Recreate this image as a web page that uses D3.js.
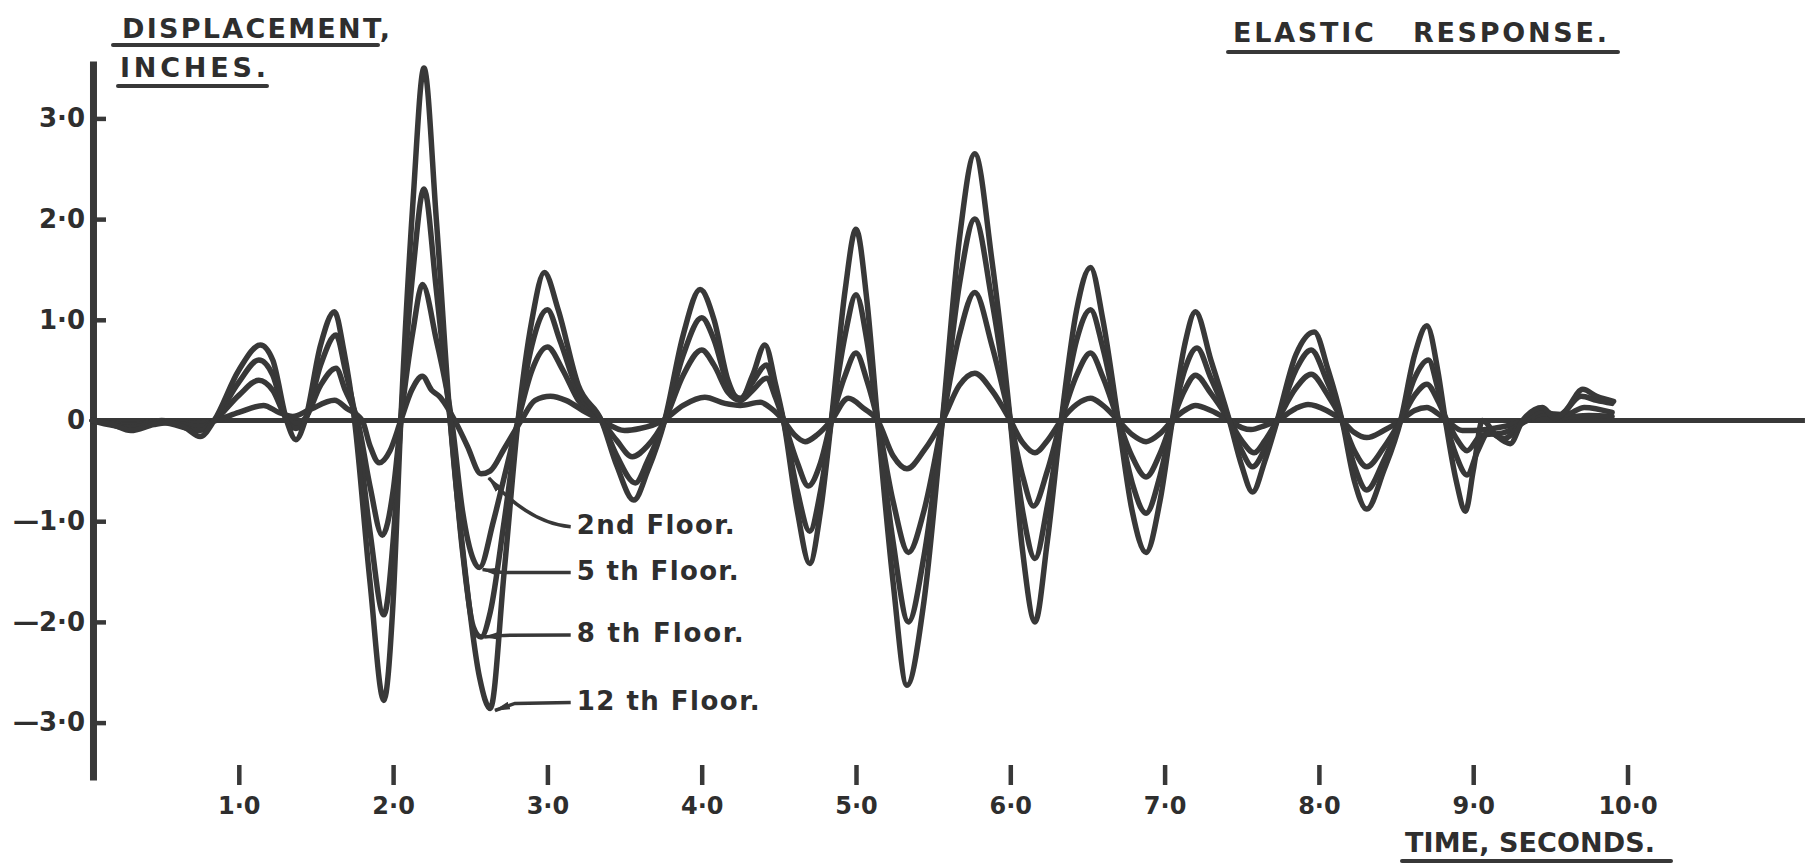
<!DOCTYPE html>
<html>
<head>
<meta charset="utf-8">
<script src="https://cdn.jsdelivr.net/npm/d3@7"></script>
<style>
  body { margin: 0; background: #fff; }
  svg { display: block; }
  text { font-family: "DejaVu Sans", sans-serif; font-weight: bold; fill: #2e2e2e; }
</style>
</head>
<body>
<div id="chart"></div>
<script>
var svgWidth = 1820;
var svgHeight = 867;

// axis ticks
var timeTicks = [1, 2, 3, 4, 5, 6, 7, 8, 9, 10];
var dispTicks = [3, 2, 1, 0, -1, -2, -3];

// series: [time (s), displacement (in)]
var floor12 = [[0.05,0],[0.18,-0.04],[0.30,-0.10],[0.45,-0.04],[0.55,-0.02],[0.65,-0.07],[0.75,-0.16],[0.84,0],[1.0,0.5],[1.14,0.75],[1.22,0.6],[1.31,0],[1.37,-0.19],[1.43,0],[1.53,0.75],[1.62,1.08],[1.68,0.7],[1.75,0],[1.85,-1.6],[1.94,-2.78],[2.0,-1.8],[2.05,0],[2.13,2.2],[2.20,3.5],[2.28,2.0],[2.37,0],[2.46,-1.4],[2.56,-2.55],[2.63,-2.86],[2.72,-1.5],[2.81,0],[2.9,1.0],[2.98,1.47],[3.07,1.1],[3.2,0.35],[3.35,0],[3.45,-0.45],[3.56,-0.79],[3.65,-0.5],[3.76,0],[3.88,0.85],[3.99,1.30],[4.08,1.0],[4.17,0.4],[4.25,0.2],[4.33,0.45],[4.41,0.75],[4.48,0.35],[4.53,0],[4.62,-0.9],[4.70,-1.42],[4.77,-0.9],[4.84,0],[4.93,1.3],[5.0,1.9],[5.07,1.2],[5.14,0],[5.24,-1.6],[5.33,-2.63],[5.44,-1.8],[5.56,0],[5.67,1.8],[5.77,2.65],[5.88,1.6],[6.0,0],[6.08,-1.3],[6.16,-2.0],[6.24,-1.2],[6.33,0],[6.43,1.1],[6.52,1.52],[6.60,1.0],[6.70,0],[6.79,-0.9],[6.88,-1.31],[6.97,-0.8],[7.05,0],[7.13,0.75],[7.2,1.08],[7.3,0.6],[7.42,0],[7.5,-0.45],[7.57,-0.71],[7.65,-0.4],[7.73,0],[7.85,0.65],[7.97,0.88],[8.06,0.5],[8.15,0],[8.23,-0.6],[8.31,-0.88],[8.42,-0.5],[8.53,0],[8.62,0.65],[8.70,0.94],[8.77,0.5],[8.82,0],[8.89,-0.6],[8.95,-0.9],[9.0,-0.5],[9.06,0],[9.15,-0.15],[9.24,-0.23],[9.32,0],[9.45,0.13],[9.53,0.02],[9.6,0.1],[9.71,0.31],[9.8,0.24],[9.91,0.19]];

var floor8 = [[0.05,0],[0.3,-0.07],[0.5,-0.02],[0.75,-0.1],[0.84,0],[1.0,0.38],[1.13,0.60],[1.22,0.45],[1.31,0],[1.37,-0.08],[1.43,0],[1.53,0.55],[1.63,0.85],[1.69,0.5],[1.76,0],[1.85,-1.1],[1.94,-1.93],[2.0,-1.2],[2.05,0],[2.13,1.5],[2.20,2.3],[2.28,1.3],[2.37,0],[2.45,-1.3],[2.52,-2.05],[2.57,-2.15],[2.63,-1.9],[2.72,-1.0],[2.81,0],[2.9,0.75],[3.0,1.1],[3.08,0.8],[3.2,0.28],[3.35,0],[3.45,-0.35],[3.57,-0.62],[3.65,-0.4],[3.76,0],[3.88,0.65],[4.0,1.02],[4.08,0.8],[4.17,0.35],[4.25,0.22],[4.33,0.38],[4.42,0.55],[4.48,0.28],[4.53,0],[4.62,-0.7],[4.70,-1.1],[4.77,-0.7],[4.84,0],[4.93,0.85],[5.0,1.25],[5.07,0.8],[5.14,0],[5.24,-1.2],[5.34,-2.0],[5.44,-1.35],[5.56,0],[5.67,1.35],[5.77,2.0],[5.88,1.2],[6.0,0],[6.08,-0.9],[6.16,-1.37],[6.24,-0.85],[6.33,0],[6.43,0.8],[6.52,1.1],[6.6,0.72],[6.7,0],[6.79,-0.62],[6.88,-0.92],[6.97,-0.55],[7.05,0],[7.13,0.5],[7.21,0.72],[7.3,0.42],[7.42,0],[7.5,-0.3],[7.57,-0.46],[7.65,-0.28],[7.73,0],[7.85,0.5],[7.95,0.7],[8.05,0.4],[8.15,0],[8.23,-0.45],[8.31,-0.69],[8.42,-0.4],[8.53,0],[8.62,0.42],[8.71,0.60],[8.77,0.32],[8.82,0],[8.89,-0.35],[8.96,-0.54],[9.03,-0.3],[9.1,-0.12],[9.2,-0.18],[9.32,-0.02],[9.45,0.1],[9.55,0.04],[9.7,0.24],[9.8,0.2],[9.9,0.17]];

var floor5 = [[0.05,0],[0.3,-0.05],[0.5,-0.01],[0.75,-0.06],[0.84,0],[1.0,0.25],[1.13,0.40],[1.22,0.3],[1.31,0.02],[1.37,-0.03],[1.43,0.02],[1.53,0.35],[1.63,0.52],[1.69,0.3],[1.77,0],[1.85,-0.65],[1.93,-1.14],[2.0,-0.7],[2.05,0],[2.13,0.9],[2.19,1.35],[2.28,0.8],[2.38,0],[2.45,-0.9],[2.52,-1.38],[2.56,-1.46],[2.65,-1.0],[2.73,-0.5],[2.81,0],[2.9,0.5],[3.0,0.73],[3.1,0.5],[3.2,0.2],[3.35,0],[3.45,-0.2],[3.55,-0.36],[3.65,-0.25],[3.76,0],[3.88,0.45],[4.0,0.70],[4.08,0.55],[4.17,0.28],[4.25,0.2],[4.33,0.3],[4.42,0.42],[4.48,0.22],[4.53,0],[4.62,-0.42],[4.69,-0.65],[4.77,-0.42],[4.84,0],[4.93,0.45],[5.0,0.67],[5.07,0.4],[5.14,0],[5.24,-0.8],[5.34,-1.31],[5.44,-0.9],[5.56,0],[5.67,0.85],[5.77,1.27],[5.88,0.75],[6.0,0],[6.08,-0.55],[6.15,-0.85],[6.24,-0.5],[6.33,0],[6.43,0.45],[6.52,0.67],[6.6,0.43],[6.7,0],[6.79,-0.36],[6.88,-0.56],[6.97,-0.33],[7.05,0],[7.13,0.3],[7.2,0.45],[7.3,0.27],[7.42,0],[7.5,-0.2],[7.58,-0.32],[7.65,-0.2],[7.73,0],[7.85,0.32],[7.95,0.46],[8.05,0.27],[8.15,0],[8.23,-0.3],[8.31,-0.46],[8.42,-0.27],[8.53,0],[8.62,0.25],[8.7,0.36],[8.77,0.2],[8.83,0],[8.9,-0.2],[8.96,-0.3],[9.05,-0.15],[9.2,-0.12],[9.35,0],[9.45,0.07],[9.6,0.06],[9.72,0.13],[9.9,0.08]];

var floor2 = [[0.05,0],[0.3,-0.04],[0.5,0],[0.75,-0.03],[0.85,0],[1.0,0.08],[1.16,0.15],[1.26,0.08],[1.35,0.04],[1.45,0.1],[1.62,0.2],[1.7,0.12],[1.8,0],[1.85,-0.25],[1.91,-0.42],[1.98,-0.3],[2.05,0],[2.12,0.3],[2.19,0.44],[2.25,0.3],[2.3,0.24],[2.40,0],[2.48,-0.25],[2.57,-0.53],[2.63,-0.5],[2.72,-0.28],[2.83,0],[2.92,0.2],[3.02,0.24],[3.12,0.2],[3.25,0.08],[3.35,0],[3.5,-0.1],[3.6,-0.08],[3.75,0],[3.88,0.15],[4.02,0.23],[4.15,0.17],[4.25,0.15],[4.38,0.18],[4.45,0.12],[4.53,0],[4.6,-0.14],[4.67,-0.21],[4.75,-0.14],[4.84,0],[4.95,0.22],[5.05,0.12],[5.14,0],[5.24,-0.35],[5.33,-0.48],[5.44,-0.3],[5.56,0],[5.67,0.35],[5.77,0.47],[5.88,0.3],[6.0,0],[6.08,-0.22],[6.16,-0.32],[6.24,-0.2],[6.33,0],[6.43,0.16],[6.52,0.22],[6.6,0.15],[6.7,0],[6.79,-0.14],[6.88,-0.21],[6.97,-0.13],[7.05,0],[7.13,0.1],[7.2,0.15],[7.3,0.1],[7.42,0],[7.5,-0.07],[7.56,-0.09],[7.65,-0.05],[7.73,0],[7.85,0.12],[7.93,0.16],[8.05,0.1],[8.15,0],[8.23,-0.12],[8.31,-0.17],[8.42,-0.1],[8.53,0],[8.62,0.1],[8.7,0.13],[8.77,0.07],[8.83,0],[8.93,-0.1],[9.0,-0.1],[9.2,-0.06],[9.4,0.02],[9.6,0.03],[9.75,0.05],[9.9,0.04]];

var floorNames = ["2nd Floor.", "5 th Floor.", "8 th Floor.", "12 th Floor."];
var floorSeries = [floor2, floor5, floor8, floor12];

// where each floor label sits and where its arrow points (time, inches)
var labelAt = [[3.19, -1.035], [3.19, -1.49], [3.19, -2.11], [3.19, -2.78]];
var arrowTip = [[2.62, -0.57], [2.58, -1.48], [2.59, -2.15], [2.66, -2.88]];
var labelLen = [158, 162, 167, 183];

var tStart = 0.055;   // displacement axis sits here
var tEnd = 11.15;     // end of the zero line

var ink = "#383838";

var svg = d3.select("#chart")
    .append("svg")
    .attr("width", svgWidth)
    .attr("height", svgHeight);

svg.append("defs").append("marker")
    .attr("id", "arrow")
    .attr("viewBox", "0 0 16 8")
    .attr("refX", 15)
    .attr("refY", 4)
    .attr("markerWidth", 16)
    .attr("markerHeight", 8)
    .attr("markerUnits", "userSpaceOnUse")
    .attr("orient", "auto")
    .append("path")
    .attr("d", "M0,0 L16,4 L0,8 Z")
    .attr("fill", ink);

var x = d3.scaleLinear().domain([0, 10]).range([84.5, 1627.5]);
var y = d3.scaleLinear().domain([-3.57, 3.57]).range([780, 61]);

var fmt = function(d) {
    if (d === 0) return "0";
    return (d < 0 ? "\u2014" : "") + d3.format(".1f")(Math.abs(d)).replace(".", "\u00b7");
};

// zero line
svg.append("line")
    .attr("x1", x(tStart)).attr("x2", x(tEnd))
    .attr("y1", y(0)).attr("y2", y(0))
    .attr("stroke", ink)
    .attr("stroke-width", 5);

// displacement axis
var yAxis = svg.append("g")
    .attr("transform", `translate(${x(tStart)},0)`)
    .call(d3.axisLeft(y).tickValues(dispTicks).tickSize(-13).tickSizeOuter(0).tickPadding(8).tickFormat(fmt));
yAxis.select(".domain").attr("stroke", ink).attr("stroke-width", 7);
yAxis.selectAll(".tick line").attr("stroke", ink).attr("stroke-width", 4.5);
yAxis.selectAll(".tick text")
    .attr("font-size", 26)
    .attr("font-family", "DejaVu Sans, sans-serif")
    .attr("font-weight", "bold")
    .attr("fill", "#2e2e2e");

// time axis (tick bars only)
var xAxis = svg.append("g")
    .attr("transform", "translate(0,765)")
    .call(d3.axisBottom(x).tickValues(timeTicks).tickSize(20).tickPadding(12).tickFormat(fmt));
xAxis.select(".domain").remove();
xAxis.selectAll(".tick line").attr("stroke", ink).attr("stroke-width", 4.5);
xAxis.selectAll(".tick text")
    .attr("font-size", 24)
    .attr("font-family", "DejaVu Sans, sans-serif")
    .attr("font-weight", "bold")
    .attr("fill", "#2e2e2e");

// response curves
var line = d3.line()
    .x(d => x(d[0]))
    .y(d => y(d[1]))
    .curve(d3.curveMonotoneX);

svg.append("g")
    .selectAll("path")
    .data(floorSeries)
    .enter()
    .append("path")
    .attr("d", line)
    .attr("fill", "none")
    .attr("stroke", ink)
    .attr("stroke-width", 5.5)
    .attr("stroke-linejoin", "round")
    .attr("stroke-linecap", "round");

// floor labels with arrows
var notes = svg.append("g");
floorNames.forEach(function(name, i) {
    var lx = x(labelAt[i][0]), ly = y(labelAt[i][1]);
    var tx = x(arrowTip[i][0]), ty = y(arrowTip[i][1]);
    var sx = lx - 6;
    var path = (i === 0)
        ? `M${sx},${ly + 2} Q${x(2.88)},${y(-1.02)} ${tx},${ty}`
        : `M${sx},${ly + 2} L${tx + 20},${ly + 2 + (ty - ly) * 0.1} L${tx},${ty}`;
    notes.append("path")
        .attr("d", path)
        .attr("fill", "none")
        .attr("stroke", ink)
        .attr("stroke-width", 3.5)
        .attr("marker-end", "url(#arrow)");
    notes.append("text")
        .attr("x", lx)
        .attr("y", ly)
        .attr("dy", "0.36em")
        .attr("font-size", 26)
        .attr("textLength", labelLen[i])
        .attr("lengthAdjust", "spacing")
        .style("white-space", "pre")
        .text(name);
});

// titles with underlines
function title(txt, x0, base, len, size, ux0, ux1, uy) {
    svg.append("text")
        .attr("x", x0)
        .attr("y", base)
        .attr("font-size", size)
        .attr("textLength", len)
        .attr("lengthAdjust", "spacing")
        .style("white-space", "pre")
        .text(txt);
    svg.append("line")
        .attr("x1", ux0).attr("x2", ux1)
        .attr("y1", uy).attr("y2", uy)
        .attr("stroke", ink)
        .attr("stroke-width", 4)
        .attr("stroke-linecap", "round");
}

title("DISPLACEMENT,", 122, 38, 268, 27, 113, 378, 45);
title("INCHES.", 120, 77, 146, 27, 118, 267, 86);
title("ELASTIC   RESPONSE.", 1233, 42, 374, 27, 1228, 1618, 52);
title("TIME, SECONDS.", 1405, 852, 250, 27, 1402, 1671, 861);
</script>
</body>
</html>
